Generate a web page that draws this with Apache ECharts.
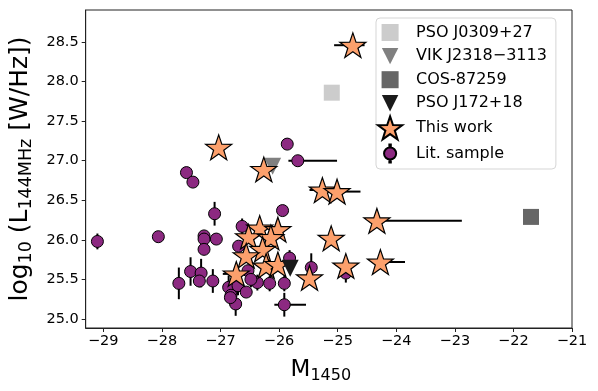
<!DOCTYPE html>
<html>
<head>
<meta charset="utf-8">
<script src="https://cdn.jsdelivr.net/npm/echarts@6/dist/echarts.min.js"></script>
<style>
  html, body { margin: 0; padding: 0; background: #fff; }
  #chart { width: 598px; height: 391px; }
</style>
</head>
<body>
<div id="chart"></div>
<script>
// axis ticks
const xTicks = [-29, -28, -27, -26, -25, -24, -23, -22, -21];
const yTicks = [25.0, 25.5, 26.0, 26.5, 27.0, 27.5, 28.0, 28.5];

// Lit. sample (M1450, log L144MHz, vertical error, horizontal error low/high)
const litM = [-29.10, -28.06, -27.58, -27.47, -27.71, -27.51, -27.33, -27.36, -27.28, -27.28,
  -27.28, -27.07, -27.10, -27.13, -26.63, -26.69, -26.53, -26.86, -26.70, -26.56,
  -26.82, -26.74, -26.37, -26.16, -25.91, -25.91, -25.82, -25.45, -24.86, -25.94,
  -25.86, -25.68, -26.83, -26.48];
const litL = [25.98, 26.04, 26.85, 26.73, 25.45, 25.60, 25.58, 25.48, 26.05, 26.01,
  25.88, 26.01, 26.33, 25.48, 26.17, 25.92, 25.61, 25.40, 25.42, 25.34,
  25.30, 25.19, 25.46, 25.45, 25.45, 25.18, 25.77, 25.65, 25.58, 26.37,
  27.21, 27.00, 25.27, 25.50];
const litYerr = [0.10, 0, 0, 0, 0.20, 0.18, 0.18, 0.08, 0.05, 0,
  0, 0, 0.15, 0.15, 0.10, 0, 0, 0.15, 0.12, 0,
  0, 0.15, 0.10, 0.10, 0.10, 0.15, 0.10, 0.18, 0.12, 0,
  0, 0, 0.10, 0.10];
const litXerrLo = [0, 0, 0, 0, 0, 0, 0, 0, 0, 0,
  0, 0, 0, 0, 0, 0, 0, 0, 0, 0,
  0, 0, 0, 0, 0, 0.17, 0, 0, 0, 0,
  0, 0.16, 0, 0];
const litXerrHi = [0, 0, 0, 0, 0, 0, 0, 0, 0, 0,
  0, 0, 0, 0, 0, 0, 0, 0, 0, 0,
  0, 0, 0, 0, 0, 0.37, 0, 0, 0, 0,
  0, 0.67, 0, 0];

// This work
const workM = [-24.74, -27.03, -26.26, -25.26, -25.01, -24.33, -25.11, -24.86, -24.27, -26.33,
  -26.02, -26.52, -26.14, -26.28, -26.56, -26.22, -26.02, -26.73, -25.48];
const workL = [28.46, 27.17, 26.89, 26.63, 26.61, 26.24, 26.02, 25.67, 25.72, 26.15,
  26.13, 26.04, 26.03, 25.88, 25.80, 25.67, 25.69, 25.57, 25.52];
const workXerrLo = [0.32, 0, 0, 0.22, 0, 0, 0, 0, 0, 0,
  0, 0, 0, 0, 0, 0, 0, 0.23, 0];
const workXerrHi = [0.20, 0, 0, 0, 0.40, 1.45, 0, 0, 0.42, 0,
  0, 0, 0, 0, 0, 0, 0, 0, 0];

// individual sources
const psoJ0309 = [-25.10, 27.86];
const vikJ2318 = [-26.11, 26.93];
const cos87259 = [-21.70, 26.29];
const psoJ172 = [-25.81, 25.64];

const FONT = 'DejaVu Sans';

function starPath(inner) {
  const pts = [];
  for (let i = 0; i < 10; i++) {
    const rad = i % 2 ? inner : 1;
    const a = -Math.PI / 2 + i * Math.PI / 5;
    pts.push((rad * Math.cos(a)).toFixed(4) + ',' + (rad * Math.sin(a)).toFixed(4));
  }
  return 'path://M' + pts.join('L') + 'Z';
}
const STAR = starPath(0.39);
const TRI_DOWN = 'path://M-1,-1L1,-1L0,1Z';

// legend icons, padded with empty move-to points so they come out smaller than the star
const pad = p => 'M' + (-p) + ',' + (-p) + 'M' + p + ',' + p;
const ICON_SQ = 'path://' + pad(1.35) + 'M-1,-1L1,-1L1,1L-1,1Z';
const ICON_TRI = 'path://' + pad(1.4) + 'M-1,-1L1,-1L0,1Z';
const ICON_LIT = 'path://' + pad(1.9) +
  'M1,0A1,1 0 1,1 -1,0A1,1 0 1,1 1,0Z' +
  'M-0.12,-1.5L0.12,-1.5L0.12,-1L-0.12,-1Z' +
  'M-0.12,1L0.12,1L0.12,1.5L-0.12,1.5Z';

function renderErr(params, api) {
  const x = api.value(0), y = api.value(1);
  const xl = api.value(2), xh = api.value(3), ye = api.value(4);
  const style = { stroke: '#000', lineWidth: 2 };
  const children = [];
  if (xl || xh) {
    const a = api.coord([x - xl, y]), b = api.coord([x + xh, y]);
    children.push({ type: 'line', shape: { x1: a[0], y1: a[1], x2: b[0], y2: b[1] }, style });
  }
  if (ye) {
    const a = api.coord([x, y - ye]), b = api.coord([x, y + ye]);
    children.push({ type: 'line', shape: { x1: a[0], y1: a[1], x2: b[0], y2: b[1] }, style });
  }
  return { type: 'group', children };
}

const litErr = litM.map((m, i) => [m, litL[i], litXerrLo[i], litXerrHi[i], litYerr[i]]);
const workErr = workM.map((m, i) => [m, workL[i], workXerrLo[i], workXerrHi[i], 0]);
const litData = litM.map((m, i) => [m, litL[i]]);
const workData = workM.map((m, i) => [m, workL[i]]);

const chart = echarts.init(document.getElementById('chart'));
const option = {
  animation: false,
  textStyle: { fontFamily: FONT },
  grid: {
    left: 84, right: 26, top: 10, bottom: 63,
    show: true, borderColor: '#222', borderWidth: 1
  },
  legend: {
    orient: 'vertical',
    left: 376, top: 18,
    padding: [3, 9, 3, 1],
    itemWidth: 42, itemHeight: 23, itemGap: 0.6,
    backgroundColor: '#fff',
    borderColor: '#d5d5d5', borderWidth: 1, borderRadius: 4,
    textStyle: { fontFamily: FONT, fontSize: 16, color: '#000', lineHeight: 17 },
    z: 20,
    data: [
      { name: 'PSO J0309+27', icon: ICON_SQ },
      { name: 'VIK J2318\u22123113', icon: ICON_TRI },
      { name: 'COS-87259', icon: ICON_SQ },
      { name: 'PSO J172+18', icon: ICON_TRI },
      { name: 'This work', icon: STAR },
      { name: 'Lit. sample', icon: ICON_LIT }
    ]
  },
  xAxis: {
    type: 'value',
    min: -29.30, max: -21.0,
    splitLine: { show: false },
    axisLine: { lineStyle: { color: '#222', width: 1 } },
    axisTick: { customValues: xTicks, length: 4, lineStyle: { color: '#222' } },
    axisLabel: {
      customValues: xTicks,
      formatter: v => String(v).replace('-', '\u2212'),
      fontFamily: FONT, fontSize: 14.5, color: '#000', margin: 6
    },
    name: '{m|M}{s|1450}',
    nameLocation: 'middle',
    nameGap: 28,
    nameTextStyle: {
      fontFamily: FONT, color: '#000', padding: [0, 16, 0, 0],
      rich: {
        m: { fontSize: 23, lineHeight: 28, fontFamily: FONT, color: '#000' },
        s: { fontSize: 16, lineHeight: 14, verticalAlign: 'bottom', fontFamily: FONT, color: '#000' }
      }
    }
  },
  yAxis: {
    type: 'value',
    min: 24.886, max: 28.905,
    splitLine: { show: false },
    axisLine: { lineStyle: { color: '#222', width: 1 } },
    axisTick: { customValues: yTicks, length: 4, lineStyle: { color: '#222' } },
    axisLabel: {
      customValues: yTicks,
      formatter: v => v.toFixed(1),
      fontFamily: FONT, fontSize: 14.5, color: '#000', margin: 7
    },
    name: '{m|log}{s|10}{m| (L}{s|144MHz}{m| [W/Hz])}',
    nameLocation: 'middle',
    nameRotate: 90,
    nameGap: 45,
    nameTextStyle: {
      fontFamily: FONT, color: '#000',
      rich: {
        m: { fontSize: 25, lineHeight: 30, fontFamily: FONT, color: '#000' },
        s: { fontSize: 17.5, lineHeight: 15, verticalAlign: 'bottom', fontFamily: FONT, color: '#000' }
      }
    }
  },
  series: [
    {
      name: 'litErr', type: 'custom', renderItem: renderErr,
      encode: { x: 0, y: 1 }, data: litErr, z: 1, silent: true
    },
    {
      name: 'Lit. sample', type: 'scatter', symbol: 'circle', symbolSize: 12,
      itemStyle: { color: '#8c2981', borderColor: '#000', borderWidth: 1, opacity: 1 },
      data: litData, z: 2
    },
    {
      name: 'workErr', type: 'custom', renderItem: renderErr,
      encode: { x: 0, y: 1 }, data: workErr, z: 3, silent: true
    },
    {
      name: 'This work', type: 'scatter', symbol: STAR, symbolSize: 26, symbolKeepAspect: true,
      itemStyle: { color: '#fca06c', borderColor: '#000', borderWidth: 1.2, opacity: 1 },
      data: workData, z: 4
    },
    {
      name: 'PSO J0309+27', type: 'scatter', symbol: 'rect', symbolSize: 16,
      itemStyle: { color: '#cccccc', opacity: 1 }, data: [psoJ0309], z: 5
    },
    {
      name: 'VIK J2318\u22123113', type: 'scatter', symbol: TRI_DOWN, symbolSize: 17,
      itemStyle: { color: '#808080', opacity: 1 }, data: [vikJ2318], z: 3
    },
    {
      name: 'COS-87259', type: 'scatter', symbol: 'rect', symbolSize: 16,
      itemStyle: { color: '#666666', opacity: 1 }, data: [cos87259], z: 5
    },
    {
      name: 'PSO J172+18', type: 'scatter', symbol: TRI_DOWN, symbolSize: 17,
      itemStyle: { color: '#1a1a1a', opacity: 1 }, data: [psoJ172], z: 5
    }
  ]
};
chart.setOption(option);
</script>
</body>
</html>
